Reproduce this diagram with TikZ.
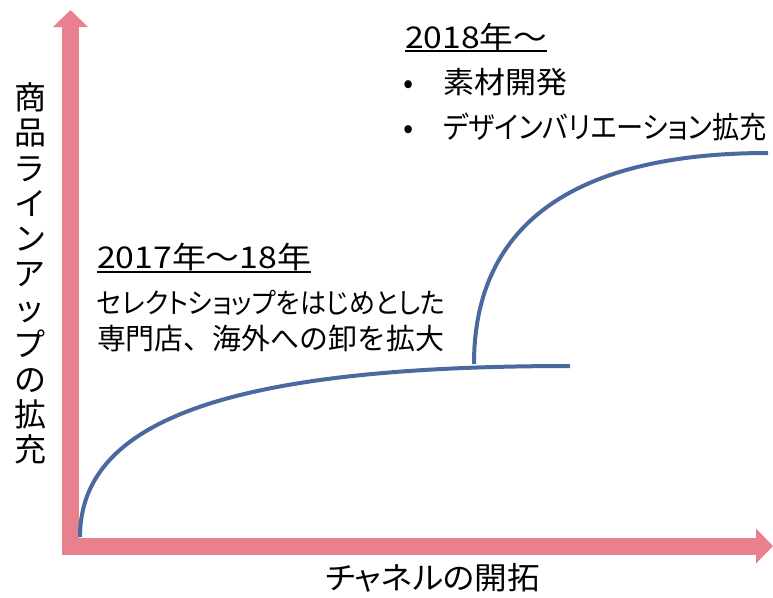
\documentclass[tikz,border=0pt]{standalone}
\usepackage{fontspec}
\usepackage{graphicx}
\setmainfont{Noto Sans CJK JP}[RawFeature=+palt]
\newfontfamily\jpfull{Noto Sans CJK JP}
\usetikzlibrary{arrows.meta}
\definecolor{axispink}{HTML}{E9808D}
\definecolor{curveblue}{HTML}{4A6A9F}
\newcommand{\fitw}[2]{\resizebox{#1}{\height}{#2}}
\tikzset{
  axisarrow/.style={draw=axispink, line width=17pt, -{Triangle[length=17pt,width=34pt]}},
  growth/.style={draw=curveblue, line width=4pt},
  lbl/.style={inner sep=0pt, outer sep=0pt, anchor=base west, text=black},
  uline/.style={draw=black, line width=1.3pt},
}
\begin{document}
\begin{tikzpicture}[x=1pt,y=-1pt]
\useasboundingbox (0,0) rectangle (773,597);
% axes
\coordinate (origin) at (70.5,554);
\coordinate (ytip) at (70.5,10);
\coordinate (xstart) at (62,546);
\coordinate (xtip) at (773,546);
\draw[axisarrow] (origin) -- (ytip);
\draw[axisarrow] (xstart) -- (xtip);
% curves
\coordinate (c1s) at (80,537);
\coordinate (c1e) at (570,366);
\coordinate (c2s) at (474,364);
\coordinate (c2e) at (768,153);
\draw[growth] (c1s) .. controls (80,420) and (230,366) .. (c1e);
\draw[growth] (c2s) .. controls (474,220) and (580,153) .. (c2e);
% axis labels
\node[inner sep=0pt, align=center, font=\fontsize{32}{35.2}\selectfont] (ylabel) at (30,273.5)
  {商\\品\\ラ\\イ\\ン\\ア\\ッ\\プ\\の\\拡\\充};
\node[inner sep=0pt, anchor=base west, font=\fontsize{31}{36}\selectfont] (xlabel) at (325,589) {\fitw{215pt}{チャネルの開拓}};
% 2018 block
\node[lbl, font=\fontsize{30}{34}\selectfont] (t2018) at (405,48) {\fitw{142pt}{2018年〜}};
\draw[uline] ([yshift=-3pt]t2018.base west) -- ([yshift=-3pt]t2018.base east);
\node[lbl, font=\fontsize{30}{30}\selectfont] (b1) at (403,93) {•};
\node[lbl, font=\fontsize{30}{34}\selectfont] (i1) at (443,93) {\fitw{124pt}{素材開発}};
\node[lbl, font=\fontsize{30}{30}\selectfont] (b2) at (403,138) {•};
\node[lbl, font=\fontsize{30}{34}\selectfont] (i2) at (443,138) {\fitw{324pt}{デザインバリエーション拡充}};
% 2017 block
\node[lbl, font=\fontsize{30}{34}\selectfont] (t2017) at (97,268) {\fitw{214pt}{2017年〜18年}};
\draw[uline] ([yshift=-4pt]t2017.base west) -- ([yshift=-4pt]t2017.base east);
\node[lbl, font=\fontsize{28}{34}\selectfont] (l1) at (97,313) {\fitw{348pt}{セレクトショップをはじめとした}};
\node[lbl, font=\jpfull\fontsize{29}{34}\selectfont] (l2) at (97,349) {\fitw{347pt}{専門店、海外への卸を拡大}};
\end{tikzpicture}
\end{document}
